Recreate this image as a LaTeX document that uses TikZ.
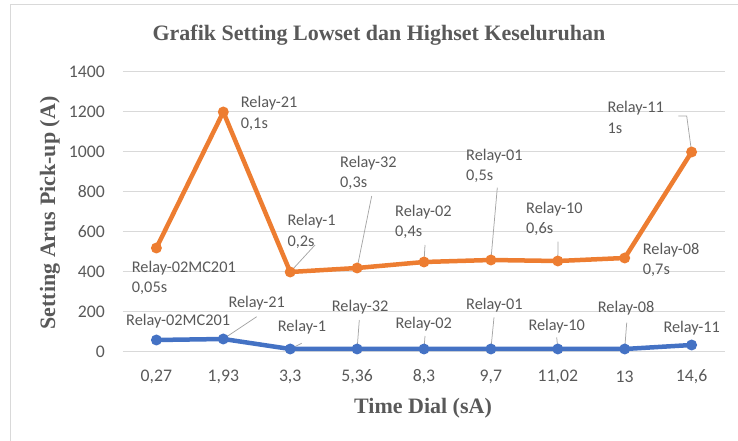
\documentclass[tikz,border=0pt]{standalone}
\usepackage{fontspec}
\setmainfont{Liberation Serif}
\newfontfamily\calib{Carlito}
\usepackage{tikz}

\definecolor{gridgray}{HTML}{D9D9D9}
\definecolor{txtgray}{HTML}{595959}
\definecolor{leadgray}{HTML}{A6A6A6}
\definecolor{hiorange}{HTML}{ED7D31}
\definecolor{loblue}{HTML}{4472C4}

\tikzset{
  gridline/.style={draw=gridgray, line width=1pt},
  ticklbl/.style={font=\calib\fontsize{17.7}{21}\selectfont, text=txtgray, inner sep=0pt},
  datalbl/.style={font=\calib\fontsize{16.3}{20.5}\selectfont, text=txtgray, anchor=west, inner sep=0pt, align=left},
  leader/.style={draw=leadgray, line width=0.75pt},
  axistitle/.style={font=\bfseries\fontsize{22}{26}\selectfont, text=txtgray},
  serie/.style={line width=4.5pt, line join=round, line cap=round}
}

\begin{document}
\begin{tikzpicture}[x=1pt, y=1pt]
    \useasboundingbox (0,0) rectangle (738,441);
    \draw[gridgray, line width=1pt] (10,0) -- (10,436) -- (738,436);
    \node[axistitle] (title) at (379,406) {Grafik Setting Lowset dan Highset Keseluruhan};
    \node[axistitle] (xtitle) at (423,33) {Time Dial (sA)};
    \node[axistitle, rotate=90] (ytitle) at (50,228) {Setting Arus Pick-up (A)};

    \begin{scope}[shift={(156.4,89)}, x=66.9pt, y=0.2pt]
        \foreach \v in {0,200,...,1400}{
        \draw[gridline] (-0.5,\v) -- (8.5,\v);
        \node[ticklbl, anchor=east] (y\v) at ([xshift=-18pt]-0.5,\v) {\v};
        }
        \foreach \t [count=\i from 0] in {{0,27},{1,93},{3,3},{5,36},{8,3},{9,7},{11,02},{13},{14,6}}
        \node[ticklbl] (x\i) at ([yshift=-24.7pt]\i,0) {\t};
        \foreach \v [count=\i] in {520,1200,400,420,450,460,455,470,1000}
        \coordinate (o\i) at (\i-1,\v);
        \foreach \v [count=\i] in {60,65,15,15,15,15,15,15,35}
        \coordinate (b\i) at (\i-1,\v);
    \end{scope}

    % leader lines
    \coordinate (o3t) at (315,196);
    \coordinate (o4t) at (371.7,245);
    \coordinate (o5t) at (425,196);
    \coordinate (o6t) at (497.3,253.3);
    \coordinate (o7t) at (558,199.3);
    \coordinate (o9t) at (678.3,325);
    \coordinate (b2t) at (256.7,124.3);
    \coordinate (b3t) at (301.7,97.7);
    \coordinate (b4t) at (359.3,121);
    \coordinate (b5t) at (425,105);
    \coordinate (b6t) at (494,123.7);
    \coordinate (b7t) at (556.7,103.7);
    \coordinate (b8t) at (626.7,118.3);
    \foreach \p in {o3,o4,o5,o6,o7,b2,b3,b4,b5,b6,b7,b8}
    \draw[leader] (\p t) -- (\p);
    \draw[leader] (o9t) -- ++(8.4,0) -- (o9);

    \draw[serie, hiorange] (o1) \foreach \i in {2,...,9}{-- (o\i)};
    \draw[serie, loblue] (b1) \foreach \i in {2,...,9}{-- (b\i)};
    \foreach \i in {1,...,9}{
    \fill[hiorange] (o\i) circle (5.5pt);
    \fill[loblue] (b\i) circle (5.5pt);
    }

    \node[datalbl] (o1l) at (131.7,163.3) {Relay-02MC201\\0,05s};
    \node[datalbl] (o2l) at (240.7,327.7) {Relay-21\\0,1s};
    \node[datalbl] (o3l) at (287.3,209.7) {Relay-1\\0,2s};
    \node[datalbl] (o4l) at (340,268) {Relay-32\\0,3s};
    \node[datalbl] (o5l) at (395,219.3) {Relay-02\\0,4s};
    \node[datalbl] (o6l) at (466,275.2) {Relay-01\\0,5s};
    \node[datalbl] (o7l) at (526,222.2) {Relay-10\\0,6s};
    \node[datalbl] (o8l) at (642.7,181) {Relay-08\\0,7s};
    \node[datalbl] (o9l) at (607.3,323.8) {Relay-11\\1s};

    \node[datalbl] (b1l) at (126,120.3) {Relay-02MC201};
    \node[datalbl] (b2l) at (228.3,138.3) {Relay-21};
    \node[datalbl] (b3l) at (277.7,113.7) {Relay-1};
    \node[datalbl] (b4l) at (331.7,133.7) {Relay-32};
    \node[datalbl] (b5l) at (395.3,117) {Relay-02};
    \node[datalbl] (b6l) at (466,136) {Relay-01};
    \node[datalbl] (b7l) at (528.3,115.3) {Relay-10};
    \node[datalbl] (b8l) at (597.7,132.7) {Relay-08};
    \node[datalbl] (b9l) at (663.3,112.7) {Relay-11};
\end{tikzpicture}
\end{document}
